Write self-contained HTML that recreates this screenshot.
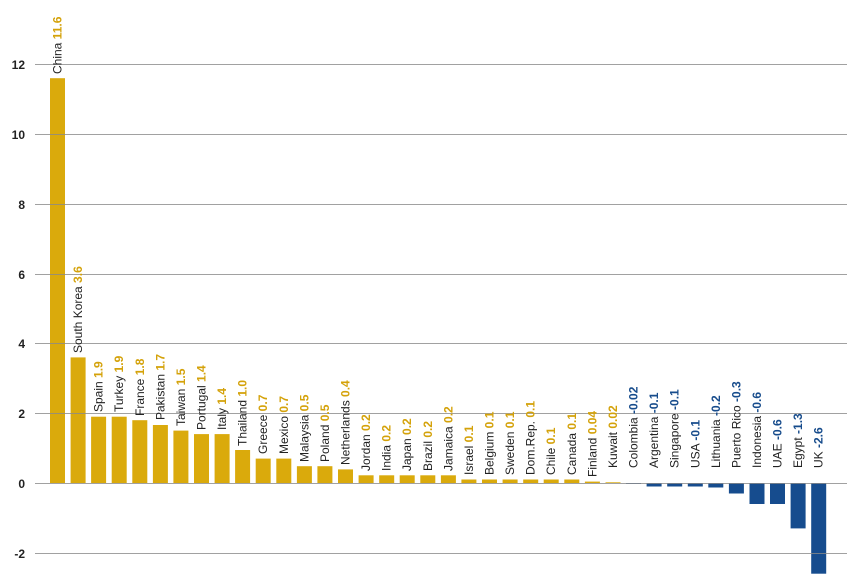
<!DOCTYPE html>
<html><head><meta charset="utf-8"><style>
html,body{margin:0;padding:0;background:#fff;}
svg{display:block;font-family:"Liberation Sans",sans-serif;}
.n{fill:#222;font-size:12px;}
.g{fill:#D4A20A;font-weight:bold;}
.b{fill:#174C8C;font-weight:bold;}
.ax{fill:#222;font-size:12px;font-weight:bold;}
</style></head><body>
<svg width="862" height="577" viewBox="0 0 862 577">
<g fill="#DAAA0C">
<rect x="50" y="78.2" width="15" height="404.8"/>
<rect x="70.6" y="357.4" width="15" height="125.6"/>
<rect x="91.1" y="416.7" width="15" height="66.3"/>
<rect x="111.7" y="416.7" width="15" height="66.3"/>
<rect x="132.3" y="420.2" width="15" height="62.8"/>
<rect x="152.9" y="425" width="15" height="58"/>
<rect x="173.4" y="430.6" width="15" height="52.4"/>
<rect x="194" y="434.1" width="15" height="48.9"/>
<rect x="214.6" y="434.1" width="15" height="48.9"/>
<rect x="235.1" y="450" width="15" height="33"/>
<rect x="255.7" y="458.6" width="15" height="24.4"/>
<rect x="276.3" y="458.6" width="15" height="24.4"/>
<rect x="296.9" y="466.2" width="15" height="16.8"/>
<rect x="317.4" y="466.2" width="15" height="16.8"/>
<rect x="338" y="469.4" width="15" height="13.6"/>
<rect x="358.6" y="475.3" width="15" height="7.7"/>
<rect x="379.2" y="475.3" width="15" height="7.7"/>
<rect x="399.7" y="475.3" width="15" height="7.7"/>
<rect x="420.3" y="475.3" width="15" height="7.7"/>
<rect x="440.9" y="475.3" width="15" height="7.7"/>
<rect x="461.4" y="479.5" width="15" height="3.5"/>
<rect x="482" y="479.5" width="15" height="3.5"/>
<rect x="502.6" y="479.5" width="15" height="3.5"/>
<rect x="523.2" y="479.5" width="15" height="3.5"/>
<rect x="543.7" y="479.5" width="15" height="3.5"/>
<rect x="564.3" y="479.5" width="15" height="3.5"/>
<rect x="584.9" y="481.6" width="15" height="1.4"/>
<rect x="605.5" y="482.3" width="15" height="0.7"/>
</g>
<g fill="#164C8E">
<rect x="626" y="483" width="15" height="0.8"/>
<rect x="646.6" y="483" width="15" height="3.5"/>
<rect x="667.2" y="483" width="15" height="3.5"/>
<rect x="687.8" y="483" width="15" height="3.5"/>
<rect x="708.3" y="483" width="15" height="4.5"/>
<rect x="728.9" y="483" width="15" height="10.5"/>
<rect x="749.5" y="483" width="15" height="21"/>
<rect x="770" y="483" width="15" height="21"/>
<rect x="790.6" y="483" width="15" height="45.4"/>
<rect x="811.2" y="483" width="15" height="90.7"/>
</g>
<g stroke="#8a8a8a" stroke-width="1" stroke-opacity="0.8">
<line x1="35" x2="847" y1="64.5" y2="64.5"/>
<line x1="35" x2="847" y1="134.5" y2="134.5"/>
<line x1="35" x2="847" y1="204.5" y2="204.5"/>
<line x1="35" x2="847" y1="274.5" y2="274.5"/>
<line x1="35" x2="847" y1="343.5" y2="343.5"/>
<line x1="35" x2="847" y1="413.5" y2="413.5"/>
<line x1="35" x2="847" y1="483.5" y2="483.5"/>
<line x1="35" x2="847" y1="553.5" y2="553.5"/>
</g>
<g class="ax" text-anchor="end">
<text x="25" y="69">12</text><text x="25" y="139">10</text><text x="25" y="209">8</text>
<text x="25" y="279">6</text><text x="25" y="348">4</text><text x="25" y="418">2</text>
<text x="25" y="488">0</text><text x="25" y="558">-2</text>
</g>
<g class="n">
<text transform="translate(61.5,74) rotate(-90)">China <tspan class="g">11.6</tspan></text>
<text transform="translate(82.1,353) rotate(-90)">South Korea <tspan class="g">3.6</tspan></text>
<text transform="translate(102.6,412) rotate(-90)">Spain <tspan class="g">1.9</tspan></text>
<text transform="translate(123.2,412) rotate(-90)">Turkey <tspan class="g">1.9</tspan></text>
<text transform="translate(143.8,416) rotate(-90)">France <tspan class="g">1.8</tspan></text>
<text transform="translate(164.4,420) rotate(-90)">Pakistan <tspan class="g">1.7</tspan></text>
<text transform="translate(184.9,426) rotate(-90)">Taiwan <tspan class="g">1.5</tspan></text>
<text transform="translate(205.5,430) rotate(-90)">Portugal <tspan class="g">1.4</tspan></text>
<text transform="translate(226.1,430) rotate(-90)">Italy <tspan class="g">1.4</tspan></text>
<text transform="translate(246.6,446) rotate(-90)">Thailand <tspan class="g">1.0</tspan></text>
<text transform="translate(267.2,454) rotate(-90)">Greece <tspan class="g">0.7</tspan></text>
<text transform="translate(287.8,454) rotate(-90)">Mexico <tspan class="g">0.7</tspan></text>
<text transform="translate(308.4,462) rotate(-90)">Malaysia <tspan class="g">0.5</tspan></text>
<text transform="translate(328.9,462) rotate(-90)">Poland <tspan class="g">0.5</tspan></text>
<text transform="translate(349.5,465) rotate(-90)">Netherlands <tspan class="g">0.4</tspan></text>
<text transform="translate(370.1,471) rotate(-90)">Jordan <tspan class="g">0.2</tspan></text>
<text transform="translate(390.7,471) rotate(-90)">India <tspan class="g">0.2</tspan></text>
<text transform="translate(411.2,471) rotate(-90)">Japan <tspan class="g">0.2</tspan></text>
<text transform="translate(431.8,471) rotate(-90)">Brazil <tspan class="g">0.2</tspan></text>
<text transform="translate(452.4,471) rotate(-90)">Jamaica <tspan class="g">0.2</tspan></text>
<text transform="translate(472.9,475) rotate(-90)">Israel <tspan class="g">0.1</tspan></text>
<text transform="translate(493.5,475) rotate(-90)">Belgium <tspan class="g">0.1</tspan></text>
<text transform="translate(514.1,475) rotate(-90)">Sweden <tspan class="g">0.1</tspan></text>
<text transform="translate(534.7,475) rotate(-90)">Dom.Rep. <tspan class="g">0.1</tspan></text>
<text transform="translate(555.2,475) rotate(-90)">Chile <tspan class="g">0.1</tspan></text>
<text transform="translate(575.8,475) rotate(-90)">Canada <tspan class="g">0.1</tspan></text>
<text transform="translate(596.4,477) rotate(-90)">Finland <tspan class="g">0.04</tspan></text>
<text transform="translate(617,468) rotate(-90)">Kuwait <tspan class="g">0.02</tspan></text>
<text transform="translate(637.5,468) rotate(-90)">Colombia <tspan class="b">-0.02</tspan></text>
<text transform="translate(658.1,468) rotate(-90)">Argentina <tspan class="b">-0.1</tspan></text>
<text transform="translate(678.7,468) rotate(-90)">Singapore <tspan class="b">-0.1</tspan></text>
<text transform="translate(699.3,468) rotate(-90)">USA <tspan class="b">-0.1</tspan></text>
<text transform="translate(719.8,468) rotate(-90)">Lithuania <tspan class="b">-0.2</tspan></text>
<text transform="translate(740.4,468) rotate(-90)">Puerto Rico <tspan class="b">-0.3</tspan></text>
<text transform="translate(761,468) rotate(-90)">Indonesia <tspan class="b">-0.6</tspan></text>
<text transform="translate(781.5,468) rotate(-90)">UAE <tspan class="b">-0.6</tspan></text>
<text transform="translate(802.1,468) rotate(-90)">Egypt <tspan class="b">-1.3</tspan></text>
<text transform="translate(822.7,468) rotate(-90)">UK <tspan class="b">-2.6</tspan></text>
</g>
</svg>
</body></html>
